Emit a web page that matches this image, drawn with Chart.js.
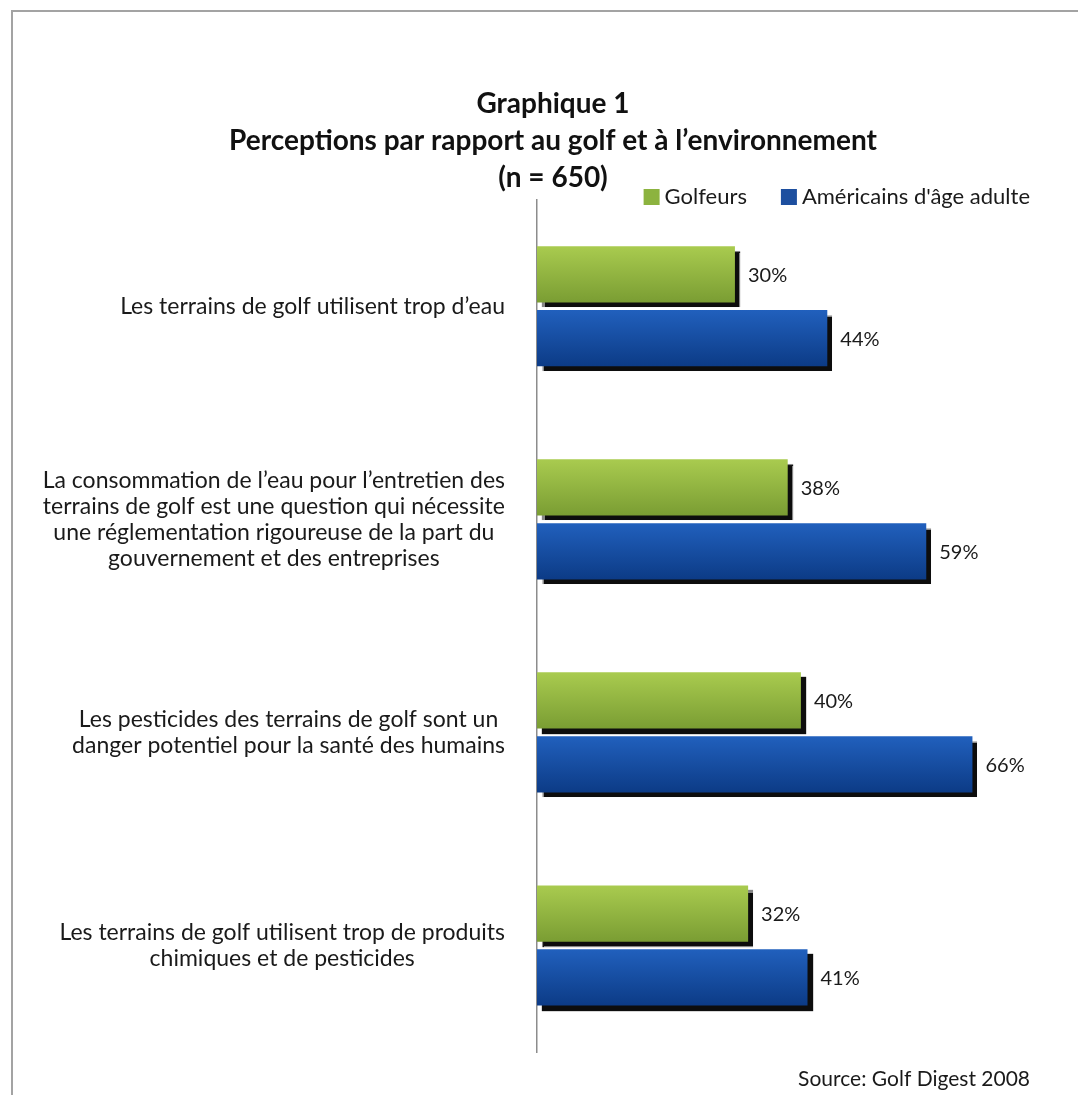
<!DOCTYPE html>
<html>
<head>
<meta charset="utf-8">
<script src="https://cdn.jsdelivr.net/npm/chart.js@4.4.1/dist/chart.umd.min.js"></script>
<style>
  html, body { margin: 0; padding: 0; background: #fff; }
</style>
</head>
<body>
<canvas id="golfChart" width="1078" height="1095"></canvas>
<script>
  'use strict';

  // Chart data
  var categories = [
    ['Les terrains de golf utilisent trop d\u2019eau'],
    ['La consommation de l\u2019eau pour l\u2019entretien des',
     'terrains de golf est une question qui n\u00e9cessite',
     'une r\u00e9glementation rigoureuse de la part du',
     'gouvernement et des entreprises'],
    ['Les pesticides des terrains de golf sont un',
     'danger potentiel pour la sant\u00e9 des humains'],
    ['Les terrains de golf utilisent trop de produits',
     'chimiques et de pesticides']
  ];
  var seriesNames = ['Golfeurs', 'Am\u00e9ricains d\'\u00e2ge adulte'];
  var golfeurs = [30, 38, 40, 32];
  var americains = [44, 59, 66, 41];
  var titleLines = [
    'Graphique 1',
    'Perceptions par rapport au golf et \u00e0 l\u2019environnement',
    '(n = 650)'
  ];
  var sourceText = 'Source: Golf Digest 2008';

  var FONT = 'Lato, "Open Sans", sans-serif';
  var CAT_PCT = 0.6;
  var BAR_PCT = 0.88;

  // Chart color schemes
  var colors = {
    green: { top: '#a9cb4f', bottom: '#7a9d33', legend: '#8cb33f' },
    blue: { top: '#2160bd', bottom: '#0c3b86', legend: '#1d4f9f' }
  };

  // Vertical gradient for each bar, from the bar's own band on the y scale
  function barGradient(scheme) {
    return function (context) {
      var chart = context.chart;
      var area = chart.chartArea;
      if (!area || context.type !== 'data' || !chart.scales.y) return scheme.bottom;
      var center = chart.scales.y.getPixelForValue(context.dataIndex);
      var band = (area.bottom - area.top) / categories.length;
      var slot = band * CAT_PCT / 2;
      var thick = slot * BAR_PCT;
      var mid = center + (context.datasetIndex === 0 ? -slot / 2 : slot / 2);
      var g = chart.ctx.createLinearGradient(0, mid - thick / 2, 0, mid + thick / 2);
      g.addColorStop(0, scheme.top);
      g.addColorStop(1, scheme.bottom);
      return g;
    };
  }

  var framePlugin = {
    id: 'frame',
    beforeDraw: function (chart) {
      var ctx = chart.ctx;
      ctx.save();
      ctx.fillStyle = '#ffffff';
      ctx.fillRect(0, 0, chart.width, chart.height);
      ctx.strokeStyle = '#a3a3a3';
      ctx.lineWidth = 2;
      ctx.beginPath();
      ctx.moveTo(12, chart.height);
      ctx.lineTo(12, 11);
      ctx.lineTo(chart.width, 11);
      ctx.stroke();
      ctx.restore();
    }
  };

  var shadowPlugin = {
    id: 'barShadow',
    beforeDatasetsDraw: function (chart) {
      var ctx = chart.ctx;
      ctx.save();
      ctx.shadowColor = 'rgba(0,0,0,0.95)';
      ctx.shadowOffsetX = 5;
      ctx.shadowOffsetY = 5;
      ctx.shadowBlur = 1;
    },
    afterDatasetsDraw: function (chart) {
      chart.ctx.restore();
    }
  };

  var textPlugin = {
    id: 'chartText',
    afterDraw: function (chart) {
      var ctx = chart.ctx;
      var area = chart.chartArea;
      var yScale = chart.scales.y;
      ctx.save();
      ctx.fillStyle = '#1a1a1a';
      ctx.textBaseline = 'middle';

      // Category labels: block right-aligned, lines centred inside the block
      ctx.font = '23px ' + FONT;
      var lineH = 26;
      var labelRight = area.left - 32;
      categories.forEach(function (lines, i) {
        var w = 0;
        lines.forEach(function (l) { w = Math.max(w, ctx.measureText(l).width); });
        var cx = labelRight - w / 2;
        var cy = yScale.getPixelForValue(i);
        var top = cy - (lines.length - 1) * lineH / 2;
        ctx.textAlign = 'center';
        lines.forEach(function (l, k) { ctx.fillText(l, cx, top + k * lineH); });
      });

      // Value labels
      ctx.font = '20px ' + FONT;
      ctx.textAlign = 'left';
      chart.data.datasets.forEach(function (ds, di) {
        chart.getDatasetMeta(di).data.forEach(function (el, i) {
          ctx.fillText(ds.data[i] + '%', el.x + 13, el.y + 1);
        });
      });

      // Legend
      ctx.font = '22px ' + FONT;
      var ly = 197;
      var box = 16;
      var right = 1030;
      var w2 = ctx.measureText(seriesNames[1]).width;
      var w1 = ctx.measureText(seriesNames[0]).width;
      var t2 = right - w2;
      var b2 = t2 - 5 - box;
      var t1 = b2 - 34 - w1;
      var b1 = t1 - 5 - box;
      ctx.fillStyle = colors.green.legend;
      ctx.fillRect(b1, ly - box / 2, box, box);
      ctx.fillStyle = colors.blue.legend;
      ctx.fillRect(b2, ly - box / 2, box, box);
      ctx.fillStyle = '#1a1a1a';
      ctx.fillText(seriesNames[0], t1, ly);
      ctx.fillText(seriesNames[1], t2, ly);

      // Source
      ctx.font = '21px ' + FONT;
      ctx.textAlign = 'right';
      ctx.fillText(sourceText, 1030, 1079);
      ctx.restore();
    }
  };

  var ctx = document.getElementById('golfChart').getContext('2d');
  new Chart(ctx, {
    type: 'bar',
    data: {
      labels: categories,
      datasets: [
        {
          label: seriesNames[0],
          data: golfeurs,
          backgroundColor: barGradient(colors.green),
          borderWidth: 0,
          categoryPercentage: CAT_PCT,
          barPercentage: BAR_PCT
        },
        {
          label: seriesNames[1],
          data: americains,
          backgroundColor: barGradient(colors.blue),
          borderWidth: 0,
          categoryPercentage: CAT_PCT,
          barPercentage: BAR_PCT
        }
      ]
    },
    options: {
      indexAxis: 'y',
      responsive: false,
      animation: false,
      devicePixelRatio: 1,
      layout: {
        padding: { left: 28, right: 0, top: 0, bottom: 43 }
      },
      plugins: {
        legend: { display: false },
        tooltip: { enabled: false },
        title: {
          display: true,
          text: titleLines,
          color: '#111111',
          font: { family: FONT, size: 28, weight: 'bold', lineHeight: 1.33 },
          padding: { top: 85, bottom: 3 }
        }
      },
      scales: {
        x: {
          display: false,
          min: 0,
          max: 82
        },
        y: {
          grid: { display: false },
          border: { display: true, color: '#8c8c8c', width: 1.5 },
          ticks: { display: false },
          afterFit: function (scale) {
            scale.width = 509;
          }
        }
      }
    },
    plugins: [framePlugin, shadowPlugin, textPlugin]
  });
</script>
</body>
</html>
